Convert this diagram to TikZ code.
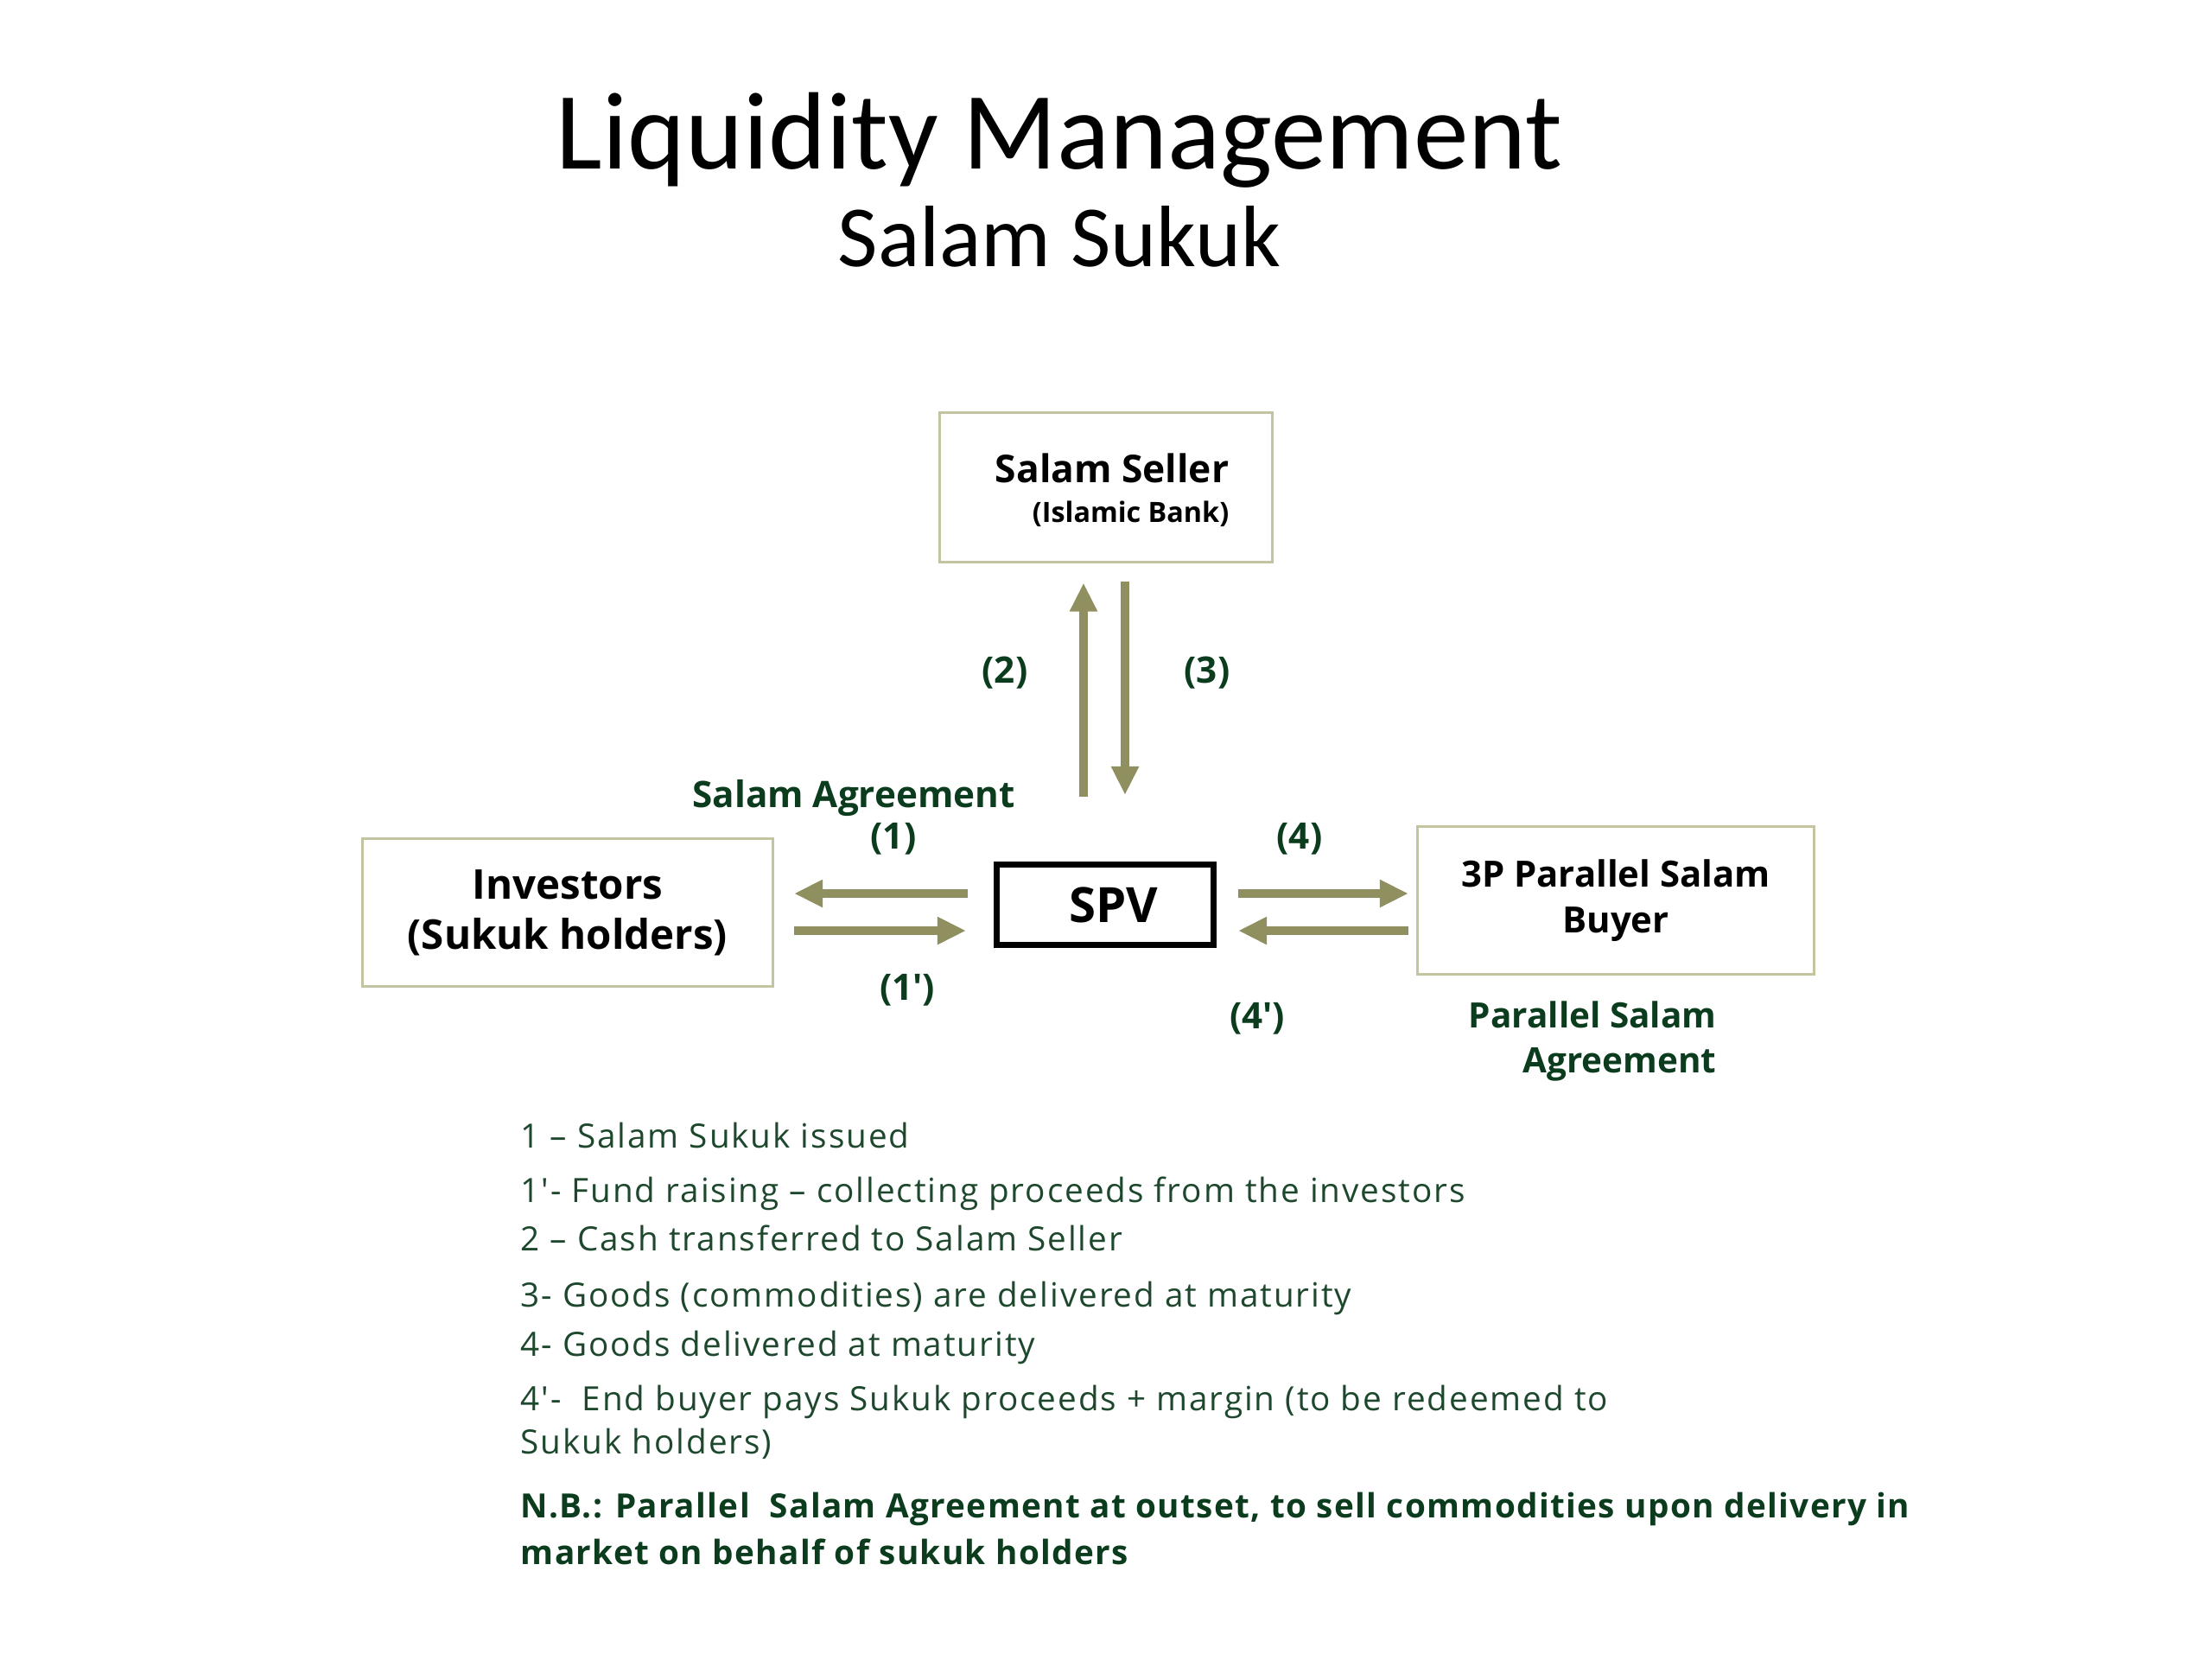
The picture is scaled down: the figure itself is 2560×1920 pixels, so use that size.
\documentclass[tikz,border=0pt]{standalone}
\usepackage{fontspec}
\setmainfont{Open Sans}
\newfontfamily\titlefont{Carlito}
\usetikzlibrary{arrows.meta,calc,positioning}
\definecolor{boxline}{RGB}{196,196,160}
\definecolor{flowcol}{RGB}{143,143,95}
\definecolor{labgreen}{RGB}{12,60,30}
\definecolor{listgreen}{RGB}{30,72,45}
\tikzset{
  party/.style={draw=boxline, line width=0.85pt, fill=white, font=\bfseries, align=center},
  spvbox/.style={draw=black, line width=2pt, font=\bfseries\fontsize{16}{19}\selectfont},
  flow/.style={-{Triangle[length=0.33cm,width=0.30cm]}, line width=2.85pt, draw=flowcol},
  steplab/.style={font=\bfseries\fontsize{12}{14.8}\selectfont, text=labgreen, inner sep=0pt},
  listline/.style={anchor=base west, inner sep=0pt, text=listgreen, font=\addfontfeature{LetterSpace=5}\fontsize{11}{13}\selectfont},
  nbline/.style={anchor=base west, inner sep=0pt, text=labgreen, font=\bfseries\addfontfeature{LetterSpace=3.5}\fontsize{11}{13}\selectfont}
}

\begin{document}
\begin{tikzpicture}[x=0.01cm,y=-0.01cm]
  \path[use as bounding box, fill=white] (0,0) rectangle (2560,1920);
  % title
  \node[anchor=base, font=\titlefont\fontsize{36.2}{44}\selectfont] (title) at (1226,195) {Liquidity Management};
  \node[anchor=base, font=\titlefont\fontsize{28.7}{34}\selectfont] (subtitle) at (1226,308) {Salam Sukuk};

  % parties
  \node[party, minimum width=3.84cm, minimum height=1.72cm] (seller) at (1280,564) {};
  \node[anchor=base east, inner sep=0pt, font=\bfseries\fontsize{12.6}{15}\selectfont] (sellername) at (1423,558) {Salam Seller};
  \node[anchor=base east, inner sep=0pt, font=\bfseries\fontsize{9.2}{11}\selectfont] (sellerbank) at (1423,604) {(Islamic Bank)};
  \node[party, minimum width=4.75cm, minimum height=1.70cm, font=\bfseries\fontsize{13.5}{16.5}\selectfont] (inv) at (657,1056) {Investors\\(Sukuk holders)};
  \node[spvbox, minimum width=2.51cm, minimum height=0.93cm] (spv) at (1279,1047) {\hspace{0.2cm}SPV};
  \node[party, minimum width=4.59cm, minimum height=1.70cm, font=\bfseries\fontsize{11.9}{15.2}\selectfont] (buyer) at (1870,1042) {\raisebox{0pt}[\height][\depth]{}3P Parallel Salam\\Buyer};

  % flows
  \draw[flow, shorten <=0.30cm, shorten >=0.23cm] ([yshift=0.13cm]spv.west) -- ([yshift=0.13cm]spv.west -| inv.east);
  \draw[flow, shorten <=0.23cm, shorten >=0.32cm] ([yshift=-0.30cm]spv.west -| inv.east) -- ([yshift=-0.30cm]spv.west);
  \draw[flow, shorten <=0.25cm, shorten >=0.09cm] ([yshift=0.13cm]spv.east) -- ([yshift=0.13cm]spv.east -| buyer.west);
  \draw[flow, shorten <=0.09cm, shorten >=0.25cm] ([yshift=-0.30cm]spv.east -| buyer.west) -- ([yshift=-0.30cm]spv.east);
  \draw[flow, shorten <=0.75cm, shorten >=0.23cm] ([xshift=-0.25cm]spv.north) -- ([xshift=-0.25cm]spv.north |- seller.south);
  \draw[flow, shorten <=0.21cm, shorten >=0.77cm] ([xshift=0.23cm]spv.north |- seller.south) -- ([xshift=0.23cm]spv.north);

  % step labels
  \node[steplab] (agree) at (988,924) {Salam Agreement};
  \node[steplab] (s1) at (1034,971) {(1)};
  \node[steplab] (s1p) at (1050,1146) {(1′)};
  \node[steplab] (s2) at (1163,779) {(2)};
  \node[steplab] (s3) at (1397,779) {(3)};
  \node[steplab] (s4) at (1504,971) {(4)};
  \node[steplab] (s4p) at (1455,1179) {(4′)};
  \node[steplab, align=right, anchor=east, font=\bfseries\fontsize{11.5}{14.8}\selectfont] (pagree) at (1987,1205) {Parallel Salam\\Agreement};

  % notes
  \foreach \yb/\txt [count=\i] in {1328/{1 – Salam Sukuk issued},
      1391/{1′- Fund raising – collecting proceeds from the investors},
      1447/{2 – Cash transferred to Salam Seller},
      1512/{3- Goods (commodities) are delivered at maturity},
      1569/{4- Goods delivered at maturity},
      1632/{4′-\ \ End buyer pays Sukuk proceeds + margin (to be redeemed to},
      1682/{Sukuk holders)}}
    \node[listline] (note\i) at (602,\yb) {\txt};
  \node[nbline] (nb1) at (602,1756) {N.B.: Parallel\ \ Salam Agreement at outset, to sell commodities upon delivery in};
  \node[nbline] (nb2) at (602,1810) {market on behalf of sukuk holders};
\end{tikzpicture}
\end{document}
